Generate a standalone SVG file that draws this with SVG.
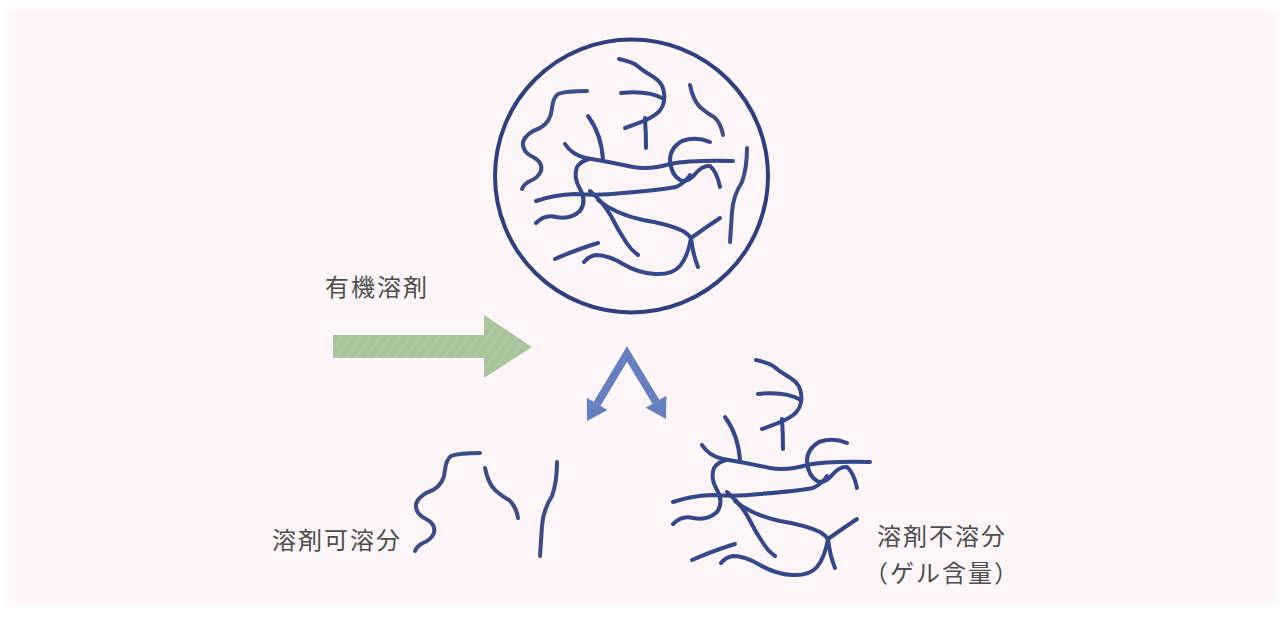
<svg xmlns="http://www.w3.org/2000/svg" xmlns:xlink="http://www.w3.org/1999/xlink" width="1285" height="619" viewBox="0 0 1285 619">
  <style>
    .strand { fill: none; stroke: #33478a; stroke-width: 4; stroke-linecap: round; stroke-linejoin: round; }
    .loose { fill: none; stroke: #3a4d86; stroke-width: 4; stroke-linecap: round; stroke-linejoin: round; }
    .label { font-family: "Noto Sans CJK JP", "Noto Sans", sans-serif; font-size: 24px; fill: #4d4d4d; letter-spacing: 2px; }
    .split { fill: #6680bf; }
  </style>
  <defs>
    <filter id="soft" x="-2%" y="-2%" width="104%" height="104%">
      <feGaussianBlur stdDeviation="3"/>
    </filter>
    <pattern id="hatch" width="8" height="8" patternUnits="userSpaceOnUse" patternTransform="rotate(35)">
      <rect width="8" height="8" fill="#a9c49c"/>
      <line x1="0" y1="0" x2="0" y2="8" stroke="#b2cba6" stroke-width="3"/>
    </pattern>
    <!-- cross-linked network (gel part) -->
    <g id="network">
      <path class="strand" d="M619,59 Q633,62 637.5,66 Q642,70 648,73.5 Q654,77 658,80.5 Q662,84 663.5,90 Q665,96 664,101.5 Q663,107 659.5,111 Q656,115 649,118.5 Q642,122 625,128"/>
      <path class="strand" d="M621,93 Q648,90 664,99"/>
      <path class="strand" d="M645,118 Q646,133 646,148"/>
      <path class="strand" d="M588,116 C596,127 602,140 603,160"/>
      <path class="strand" d="M565,144 Q572,155 586,158 Q610,162 633,167 Q650,170 670,164 Q690,160 733,161"/>
      <path class="strand" d="M710,142 Q696,136 682,141 Q670,148 670,160 Q671,175 680,180 Q688,183 696,173 Q703,165 710,166 Q717,172 720,187"/>
      <path class="strand" d="M536,201 Q553,195 575,194 Q600,196 623,193 Q660,190 676,187 Q685,183 690,175"/>
      <path class="strand" d="M536,223 Q545,214 556,217 Q570,220 580,211 Q587,201 580,189 Q573,177 577,167 Q581,161 589,159"/>
      <path class="strand" d="M590,191 Q603,202 611,216 Q618,230 626,242 Q631,250 638,255"/>
      <path class="strand" d="M598,200 Q615,214 643,220 Q668,224 683,231 Q688,234 691,238"/>
      <path class="strand" d="M691,238 Q705,228 720,218"/>
      <path class="strand" d="M691,238 Q693,255 698,267"/>
      <path class="strand" d="M691,238 Q688,256 680,266 Q672,275 655,274 Q638,273 623,264 Q608,255 596,255 Q589,256 584,262"/>
      <path class="strand" d="M555,259 Q578,249 598,243"/>
    </g>
    <!-- free chains (sol part) -->
    <path id="wiggle" class="loose" d="M587,91 Q566,91 558,94 Q553,98 552,108 Q551,122 540,128 Q526,133 523,142 Q522,152 533,157 Q543,162 541,171 Q538,178 530,181 Q524,184 522,189"/>
    <path id="slash" class="loose" d="M690,85 Q693,100 700,107 Q708,114 714,117 Q721,123 723,135"/>
    <path id="rod" class="loose" d="M747,148 Q747,168 742,182 Q733,196 732,212 Q731,228 730,242"/>
  </defs>

  <!-- backdrop -->
  <rect width="1285" height="619" fill="#ffffff"/>
  <rect x="6" y="9" width="1272" height="596" fill="#fdf5f7" filter="url(#soft)"/>

  <!-- swollen polymer before extraction -->
  <g id="polymer">
    <circle cx="631.5" cy="176" r="136.5" fill="none" stroke="#2c3f7f" stroke-width="4"/>
    <use xlink:href="#network"/>
    <use xlink:href="#wiggle"/>
    <use xlink:href="#slash"/>
    <use xlink:href="#rod"/>
  </g>

  <g id="solvent">
    <text class="label" x="377" y="296" text-anchor="middle">有機溶剤</text>
  </g>

  <g id="soluble">
    <use xlink:href="#wiggle" transform="translate(-107,362)"/>
    <use xlink:href="#slash" transform="translate(-205,383)"/>
    <use xlink:href="#rod" transform="translate(-190,314)"/>
    <text class="label" x="337" y="549" text-anchor="middle">溶剤可溶分</text>
  </g>

  <g id="insoluble">
    <use xlink:href="#network" transform="translate(137,301)"/>
    <text class="label" x="942" y="545" text-anchor="middle">溶剤不溶分</text>
    <text class="label" x="942" y="582" text-anchor="middle">（ゲル含量）</text>
  </g>

  <g id="connectors">
    <!-- solvent added -->
    <path d="M333,335 H484 V315 L532,347 L484,378 V358 H333 Z" fill="url(#hatch)"/>
    <!-- separation into two fractions -->
    <path d="M597,404 L627,354 L656,402" fill="none" stroke="#6680bf" stroke-width="8" stroke-linejoin="miter"/>
    <polygon class="split" points="587,421 607.5,409.9 586.9,397.7"/>
    <polygon class="split" points="666,419 666.4,395.7 645.6,407.7"/>
  </g>
</svg>
